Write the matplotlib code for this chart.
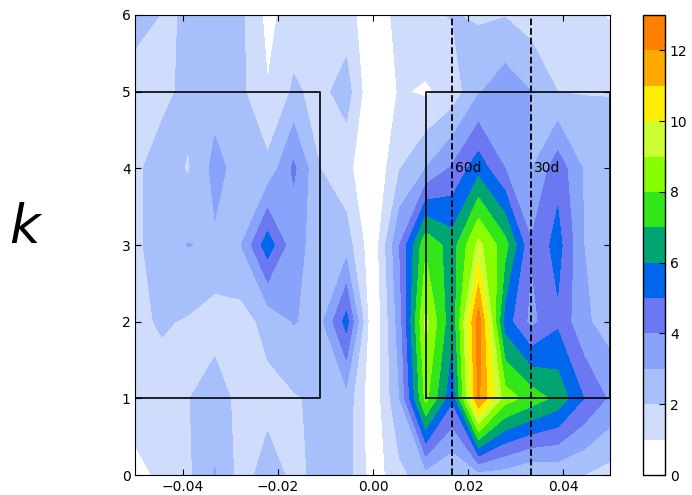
import numpy as np
import matplotlib
matplotlib.use("Agg")
from matplotlib import pyplot as plt

# frequency grid (1/180 steps) and k rows
freq = [-0.05, -0.0444, -0.0389, -0.0333, -0.0278, -0.0222, -0.0167, -0.0111, -0.0056, 0.0,
        0.0056, 0.0111, 0.0167, 0.0222, 0.0278, 0.0333, 0.0389, 0.0444, 0.05]
k_vals = [0, 1, 2, 3, 4, 5, 6]

z_k0 = [0.7, 1.2, 1.8, 3.05, 1.6, 2.4, 1.8, 2.2, 2.5, 0.4, 1.7, 2.6, 2.0, 2.6, 2.5, 2.0, 2.2, 2.0, 1.6]
z_k1 = [1.5, 1.6, 1.95, 2.6, 1.6, 1.7, 1.9, 2.2, 2.6, 0.2, 3.0, 8.3, 5.2, 12.2, 8.5, 7.6, 6.7, 5.0, 3.8]
z_k2 = [1.8, 2.1, 1.9, 1.5, 1.6, 2.3, 3.05, 2.7, 5.4, 0.0, 3.5, 9.3, 6.2, 12.6, 5.5, 3.7, 4.8, 3.2, 2.5]
z_k3 = [1.8, 2.5, 3.03, 2.85, 2.98, 5.6, 3.3, 2.6, 2.5, 0.2, 4.0, 7.8, 6.5, 9.3, 7.4, 4.1, 5.4, 3.0, 2.6]
z_k4 = [1.8, 2.5, 1.9, 3.3, 2.6, 2.25, 4.2, 2.0, 1.3, 0.0, 1.95, 3.0, 4.15, 5.6, 4.0, 2.95, 4.6, 2.9, 2.6]
z_k5 = [1.6, 1.7, 2.3, 2.6, 2.2, 1.05, 2.15, 1.7, 2.45, 0.0, 1.1, 0.85, 1.4, 2.9, 3.6, 3.0, 2.0, 1.95, 1.95]
z_k6 = [2.3, 1.97, 2.02, 2.5, 2.2, 0.7, 1.5, 1.5, 1.45, 0.2, 1.4, 1.85, 2.05, 1.85, 1.95, 1.5, 1.4, 1.3, 0.9]

levels = list(range(0, 14))
band_colors = ['#ffffff', '#d0dcfc', '#a7c0fc', '#88a3fa', '#6b78f2', '#0066ee', '#00a572',
               '#33e61a', '#88ff00', '#ccff33', '#ffee00', '#ffaa00', '#ff7f00']

# boxes: (x0, x1, y0, y1)
left_box = (-0.05, -0.0111, 1, 5)
right_box = (0.0111, 0.05, 1, 5)
periods = [(1 / 60, '60d'), (1 / 30, '30d')]

plt.rcParams['font.size'] = 10
plt.rcParams['xtick.direction'] = 'in'
plt.rcParams['ytick.direction'] = 'in'
plt.rcParams['xtick.top'] = True
plt.rcParams['ytick.right'] = True

fig = plt.figure(figsize=(6.92, 4.95), dpi=100)
ax = fig.add_axes([0.1958, 0.0404, 0.6864, 0.9293])
cax = fig.add_axes([0.9292, 0.0404, 0.0318, 0.9293])

Z = np.array([z_k0, z_k1, z_k2, z_k3, z_k4, z_k5, z_k6])
cs = ax.contourf(freq, k_vals, Z, levels=levels, colors=band_colors)

for x0, x1, y0, y1 in [left_box, right_box]:
    ax.plot([x0, x1, x1, x0, x0], [y0, y0, y1, y1, y0], color='k', lw=1.2)

for f, name in periods:
    ax.axvline(f, color='k', ls='--', lw=1.3)
    ax.annotate(name, (f, 4), xytext=(2, 0), textcoords='offset points',
                ha='left', va='center', fontsize=10)

ax.set_xlim(-0.05, 0.05)
ax.set_ylim(0, 6)
ax.set_xticks([-0.04, -0.02, 0.0, 0.02, 0.04])
ax.set_yticks([0, 1, 2, 3, 4, 5, 6])
ax.tick_params(length=4, width=0.8)

cb = fig.colorbar(cs, cax=cax, ticks=[0, 2, 4, 6, 8, 10, 12])
cb.ax.tick_params(direction='in', length=4, width=0.8)
cb.outline.set_linewidth(1.0)

fig.text(0.0376, 0.539, '$k$', fontsize=38, ha='center', va='center')

fig.savefig('out.png', dpi=100)
